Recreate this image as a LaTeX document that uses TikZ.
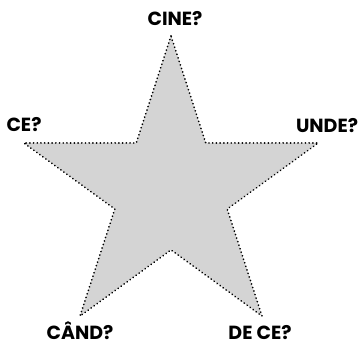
\documentclass[tikz,border=0pt]{standalone}
\usepackage{fontspec}
\setmainfont{Poppins}
\usepackage{tikz}
\usetikzlibrary{calc}
\definecolor{starfill}{RGB}{212,212,212}

\begin{document}
\begin{tikzpicture}[x=1pt, y=1pt,
  question/.style={font=\bfseries\fontsize{19}{22}\selectfont, inner sep=0pt},
  starline/.style={draw=black, fill=starfill, line width=1.9pt,
    dash pattern=on 0.01pt off 3.7pt, line cap=round, line join=round}]
  \useasboundingbox (0,0) rectangle (364,347);
  \coordinate (centre) at (171,156.2);
  % outer and inner points of the star
  \foreach \i in {0,...,9} {
    \pgfmathsetmacro{\rad}{ifthenelse(mod(\i,2)==0, 154.8, 59.1)}
    \pgfmathsetmacro{\ang}{90+36*\i}
    \coordinate (p\i) at ($(centre)+(\ang:\rad)$);
  }
  \draw[starline] (p0) \foreach \i in {1,...,9} { -- (p\i) } -- cycle;
  \node[question] (cine) at (175,328.5) {CINE?};
  \node[question] (ce) at (24,222.5) {CE?};
  \node[question] (unde) at (327,221.5) {UNDE?};
  \node[question] (cand) at (80,16) {CÂND?};
  \node[question] (dece) at (260,14.5) {DE CE?};
\end{tikzpicture}
\end{document}
